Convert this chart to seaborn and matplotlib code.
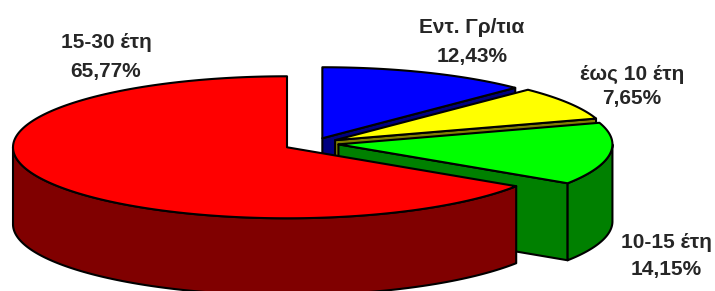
import numpy as np
import pandas as pd
import matplotlib
matplotlib.use("Agg")
import matplotlib.pyplot as plt
import seaborn as sns

# data (clockwise from 12 o'clock)
labels = ["Εντ. Γρ/τια", "έως 10 έτη", "10-15 έτη", "15-30 έτη"]
shares = [12.43, 7.65, 14.15, 65.77]

# styling / layout
top_colors = ["#0000FF", "#FFFF00", "#00FF00", "#FF0000"]
side_colors = ["#000080", "#808000", "#008000", "#800000"]
explode = [0.08, 0.09, 0.09, 0.112]
label_xy = [(472, 33, 62), (632, 80, 104), (666, 248, 275), (106, 48, 77)]

df = pd.DataFrame({"label": labels, "share": shares})

sns.set_style("white")
plt.rcParams["font.family"] = ["Liberation Sans", "DejaVu Sans"]

fig = plt.figure(figsize=(7.15, 2.91), dpi=100)
ax = fig.add_axes([0, 0, 1, 1])
ax.set_xlim(0, 715)
ax.set_ylim(291, 0)
ax.axis("off")

# pie geometry in pixel space
ox, oy = 314, 143.5
a, b, h = 274, 71, 77
lw = 1.5

cum = np.concatenate([[0], np.cumsum(df["share"].values)]) / df["share"].sum()
starts = 90 - 360 * cum[:-1]
ends = 90 - 360 * cum[1:]
mids = (starts + ends) / 2


def pt(cx, cy, t, dz=0):
    r = np.radians(t)
    return cx + a * np.cos(r), cy - b * np.sin(r) + dz


order = np.argsort(-np.sin(np.radians(mids)))
for i in order:
    s, e, m = starts[i], ends[i], mids[i]
    cx = ox + explode[i] * a * np.cos(np.radians(m))
    cy = oy - explode[i] * b * np.sin(np.radians(m))

    # radial faces turned towards the viewer
    for ang, vis in [(s, np.cos(np.radians(s)) < -1e-6), (e, np.cos(np.radians(e)) > 1e-6)]:
        if vis:
            x1, y1 = pt(cx, cy, ang)
            poly = [(cx, cy), (x1, y1), (x1, y1 + h), (cx, cy + h)]
            ax.fill(*zip(*poly), fc=side_colors[i], ec="black", lw=lw, joinstyle="round")

    # outer curved face, front half only
    th = np.linspace(e, s, 600)
    front = np.sin(np.radians(th)) <= 0
    if front.any():
        idx = np.where(front)[0]
        groups = np.split(idx, np.where(np.diff(idx) > 1)[0] + 1)
        for g in groups:
            tt = th[g]
            xt, yt = pt(cx, cy, tt)
            xb, yb = pt(cx, cy, tt[::-1], h)
            ax.fill(np.concatenate([xt, xb]), np.concatenate([yt, yb]),
                    fc=side_colors[i], ec="black", lw=lw, joinstyle="round")

    # top face
    tt = np.linspace(s, e, 400)
    xt, yt = pt(cx, cy, tt)
    ax.fill(np.concatenate([[cx], xt]), np.concatenate([[cy], yt]),
            fc=top_colors[i], ec="black", lw=lw, joinstyle="round")

for (lab, val), (lx, ly1, ly2) in zip(df[["label", "share"]].values, label_xy):
    pct = f"{val:.2f}".replace(".", ",") + "%"
    ax.text(lx, ly1, lab, ha="center", va="baseline", fontsize=15, fontweight="bold")
    ax.text(lx, ly2, pct, ha="center", va="baseline", fontsize=15, fontweight="bold")

fig.savefig("out.png", dpi=100)
